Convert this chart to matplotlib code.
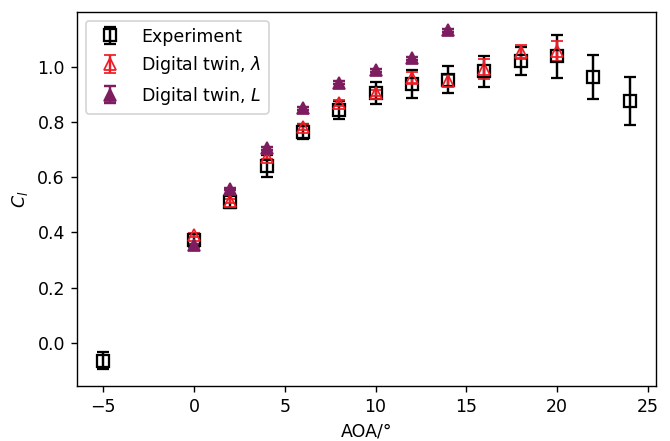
import matplotlib.pyplot as plt
import numpy as np

# experiment
aoa_exp = np.array([-5, 0, 2, 4, 6, 8, 10, 12, 14, 16, 18, 20, 22, 24])
cl_exp = np.array([-0.065, 0.373, 0.512, 0.64, 0.765, 0.843, 0.906, 0.939, 0.954, 0.985, 1.021, 1.038, 0.963, 0.876])
err_exp = np.array([0.03, 0.02, 0.025, 0.04, 0.028, 0.033, 0.04, 0.05, 0.048, 0.056, 0.05, 0.077, 0.08, 0.087])

# digital twin, lambda
aoa_lam = np.array([0, 2, 4, 6, 8, 10, 12, 14, 16, 18, 20])
cl_lam = np.array([0.39, 0.513, 0.675, 0.783, 0.87, 0.905, 0.96, 0.95, 0.993, 1.055, 1.058])
err_lam = np.array([0.008, 0.008, 0.01, 0.01, 0.01, 0.012, 0.02, 0.02, 0.035, 0.025, 0.037])

# digital twin, L
aoa_L = np.array([0, 2, 4, 6, 8, 10, 12, 14])
cl_L = np.array([0.353, 0.557, 0.705, 0.85, 0.943, 0.988, 1.032, 1.133])
err_L = np.array([0.005, 0.005, 0.005, 0.005, 0.005, 0.005, 0.005, 0.005])

RED = '#ee1c25'
PURPLE = '#7d1d5f'

dpi = 125
fig, ax = plt.subplots(figsize=(670 / dpi, 441 / dpi), dpi=dpi)
fig.subplots_adjust(left=0.115, right=0.979, top=0.973, bottom=0.125)

ax.errorbar(aoa_exp, cl_exp, yerr=err_exp, fmt='s', color='black', mfc='none',
            markersize=7, mew=1.3, elinewidth=1.4, capsize=3.5, capthick=1.4,
            label='Experiment')
ax.errorbar(aoa_lam, cl_lam, yerr=err_lam, fmt='^', color=RED, mfc='none',
            markersize=6.5, mew=1.0, elinewidth=1.4, capsize=3.5, capthick=1.4,
            label='Digital twin, $\\lambda$')
ax.errorbar(aoa_L, cl_L, yerr=err_L, fmt='^', color=PURPLE,
            markersize=7, elinewidth=1.4, capsize=3.5, capthick=1.4,
            label='Digital twin, $L$')

ax.set_xlabel('AOA/°')
ax.set_ylabel('$C_l$')
ax.legend(loc='upper left')

plt.savefig('out.png')
